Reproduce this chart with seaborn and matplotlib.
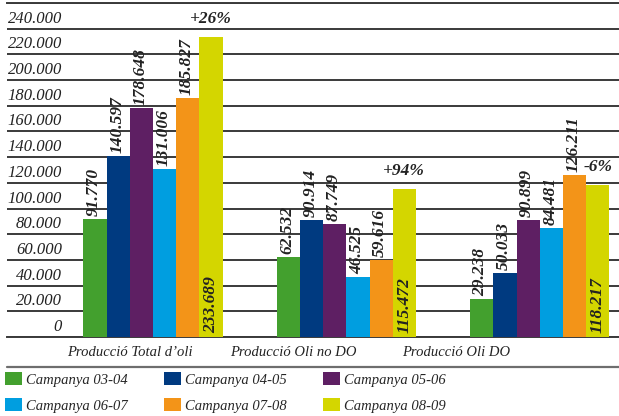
import numpy as np
import pandas as pd
import matplotlib
matplotlib.use("Agg")
import matplotlib.pyplot as plt
from matplotlib.lines import Line2D
from matplotlib import transforms
import seaborn as sns

sns.set_style("white")
plt.rcParams['font.family'] = ['Liberation Serif', 'DejaVu Serif']

# data
categories = ["Producció Total d’oli", "Producció Oli no DO", "Producció Oli DO"]
campaigns = ["Campanya 03-04", "Campanya 04-05", "Campanya 05-06",
             "Campanya 06-07", "Campanya 07-08", "Campanya 08-09"]
total_oli = [91770, 140597, 178648, 131006, 185827, 233689]
oli_no_do = [62532, 90914, 87749, 46525, 59616, 115472]
oli_do = [29238, 50033, 90899, 84481, 126211, 118217]
changes = ["+26%", "+94%", "-6%"]
yticks = np.arange(0, 240001, 20000)

colors = ["#43a02e", "#003a80", "#5e1f63", "#009ee0", "#f39418", "#d4d600"]

rows = []
for cat, vals in zip(categories, [total_oli, oli_no_do, oli_do]):
    for camp, v in zip(campaigns, vals):
        rows.append({"cat": cat, "camp": camp, "val": v})
df = pd.DataFrame(rows)

def fmt(v):
    return f"{v:,.0f}".replace(",", ".")

fig = plt.figure(figsize=(6.19, 4.16), dpi=100)
ax = fig.add_axes([7/619, 79/416, 612/619, 334/416])

sns.barplot(data=df, x="cat", y="val", hue="camp", palette=colors,
            width=0.72, saturation=1, linewidth=0, ax=ax, zorder=3)

ax.set_ylim(0, 260000)
ax.set_xlim(-0.755, 2.41)
ax.set_yticks(np.arange(0, 260001, 20000))
ax.yaxis.grid(True, color="#3a3a3a", linewidth=1.4, zorder=0)
ax.set_axisbelow(True)
for s in ["left", "right"]:
    ax.spines[s].set_visible(False)
for s in ["top", "bottom"]:
    ax.spines[s].set_color("#3a3a3a")
    ax.spines[s].set_linewidth(1.4)
ax.tick_params(left=False, bottom=False, labelleft=False, labelbottom=False)
ax.set_xlabel("")
ax.set_ylabel("")

# y tick labels sitting above the grid lines
trans = transforms.blended_transform_factory(ax.transAxes, ax.transData)
for t in yticks:
    ax.annotate(fmt(t), xy=(0.09, t), xycoords=trans, xytext=(0, 2),
                textcoords="offset pixels", ha="right", va="bottom",
                fontsize=12, style="italic", color="#222222")

# value labels
lab_kw = dict(fontsize=12.5, style="italic", fontweight="bold",
              color="#222222", rotation=90)
for k, cont in enumerate(ax.containers):
    for bar in cont:
        v = bar.get_height()
        xc = bar.get_x() + bar.get_width() / 2
        if k == len(ax.containers) - 1:
            ax.annotate(fmt(v), xy=(xc, 0), xytext=(0, 4),
                        textcoords="offset pixels", ha="center", va="bottom",
                        **lab_kw)
        else:
            ax.annotate(fmt(v), xy=(xc, v), xytext=(-1, 3),
                        textcoords="offset pixels", ha="center", va="bottom",
                        **lab_kw)

# change labels above the last campaign
last = ax.containers[-1]
for bar, txt in zip(last, changes):
    xc = bar.get_x() + bar.get_width() / 2
    ax.annotate(txt, xy=(xc, bar.get_height()), xytext=(0, 10),
                textcoords="offset pixels", ha="center", va="bottom",
                fontsize=12.5, style="italic", fontweight="bold",
                color="#222222")

# category labels under the groups
label_dx = [-23, -53, -84]
for i, (cat, dx) in enumerate(zip(categories, label_dx)):
    ax.annotate(cat, xy=(i, 0), xytext=(dx, -16), textcoords="offset pixels",
                ha="center", va="center", fontsize=10.5, style="italic",
                color="#222222", annotation_clip=False)

# separator above legend
fig.add_artist(Line2D([7/619, 1], [1 - 367/416, 1 - 367/416],
                      color="#6e6e6e", linewidth=1.6))

handles, labels = ax.get_legend_handles_labels()
ax.get_legend().remove()
order = [0, 3, 1, 4, 2, 5]
fig.legend([handles[i] for i in order], [labels[i] for i in order],
           ncol=3, loc="upper left", bbox_to_anchor=(5/619, 1 - 372/416),
           frameon=False, prop={"style": "italic", "size": 10.5},
           handlelength=1.17, handleheight=1.03, handletextpad=0.25,
           columnspacing=2.5, labelspacing=0.78, borderpad=0,
           borderaxespad=0)

fig.savefig("out.png", dpi=100)
